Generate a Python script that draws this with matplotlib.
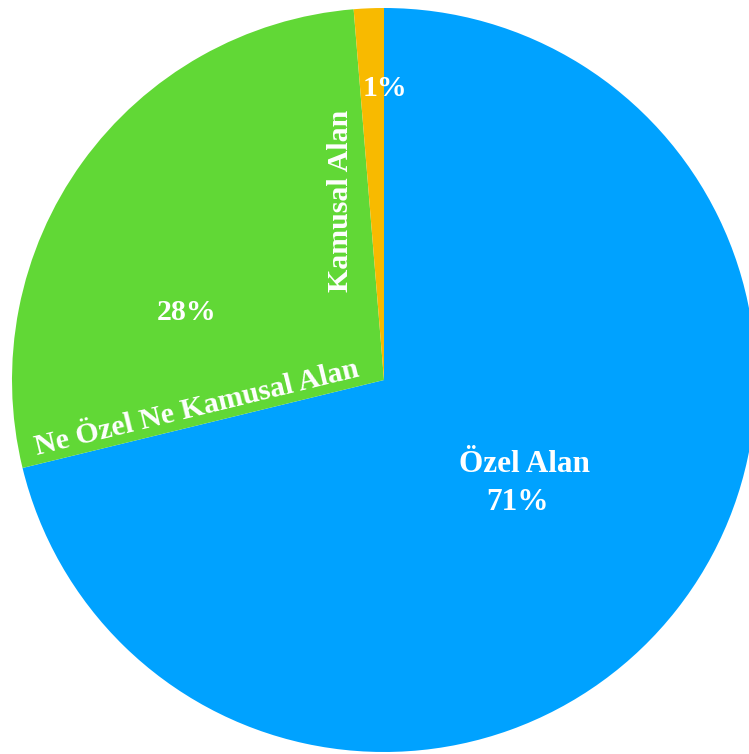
import matplotlib
matplotlib.use("Agg")
import matplotlib.pyplot as plt

labels = ["Özel Alan", "Ne Özel Ne Kamusal Alan", "Kamusal Alan"]
values = [71.2, 27.5, 1.3]
pct_labels = ["71%", "28%", "1%"]
colors = ["#00A2FF", "#61D836", "#F8BA00"]

W, H = 749, 754
fig = plt.figure(figsize=(W / 100, H / 100), dpi=100)
cx, cy, r = 384, 380, 372
ax = fig.add_axes([(cx - r) / W, (H - cy - r) / H, 2 * r / W, 2 * r / H])
ax.pie(values, colors=colors, startangle=90, counterclock=False, radius=1,
       wedgeprops=dict(linewidth=0))
ax.set_xlim(-1, 1)
ax.set_ylim(-1, 1)
ax.set_aspect("equal")
ax.axis("off")

def d(px, py):
    return (px - cx) / r, (cy - py) / r

font = dict(family="Liberation Serif", weight="bold", color="white", size=21.5)

x, y = d(524, 465)
ax.text(x, y, labels[0], ha="center", va="center", **dict(font, size=22.5))
x, y = d(517, 502)
ax.text(x, y, pct_labels[0], ha="center", va="center", **dict(font, size=22.5))
x, y = d(187, 312)
ax.text(x, y, pct_labels[1], ha="center", va="center", **font)
x, y = d(197, 408)
ax.text(x, y, labels[1], ha="center", va="center", rotation=13.7,
        rotation_mode="anchor", **font)
x, y = d(340, 201)
ax.text(x, y, labels[2], ha="center", va="center", rotation=90, **font)
x, y = d(385, 89)
ax.text(x, y, pct_labels[2], ha="center", va="center", **font)

fig.savefig("out.png", dpi=100)
